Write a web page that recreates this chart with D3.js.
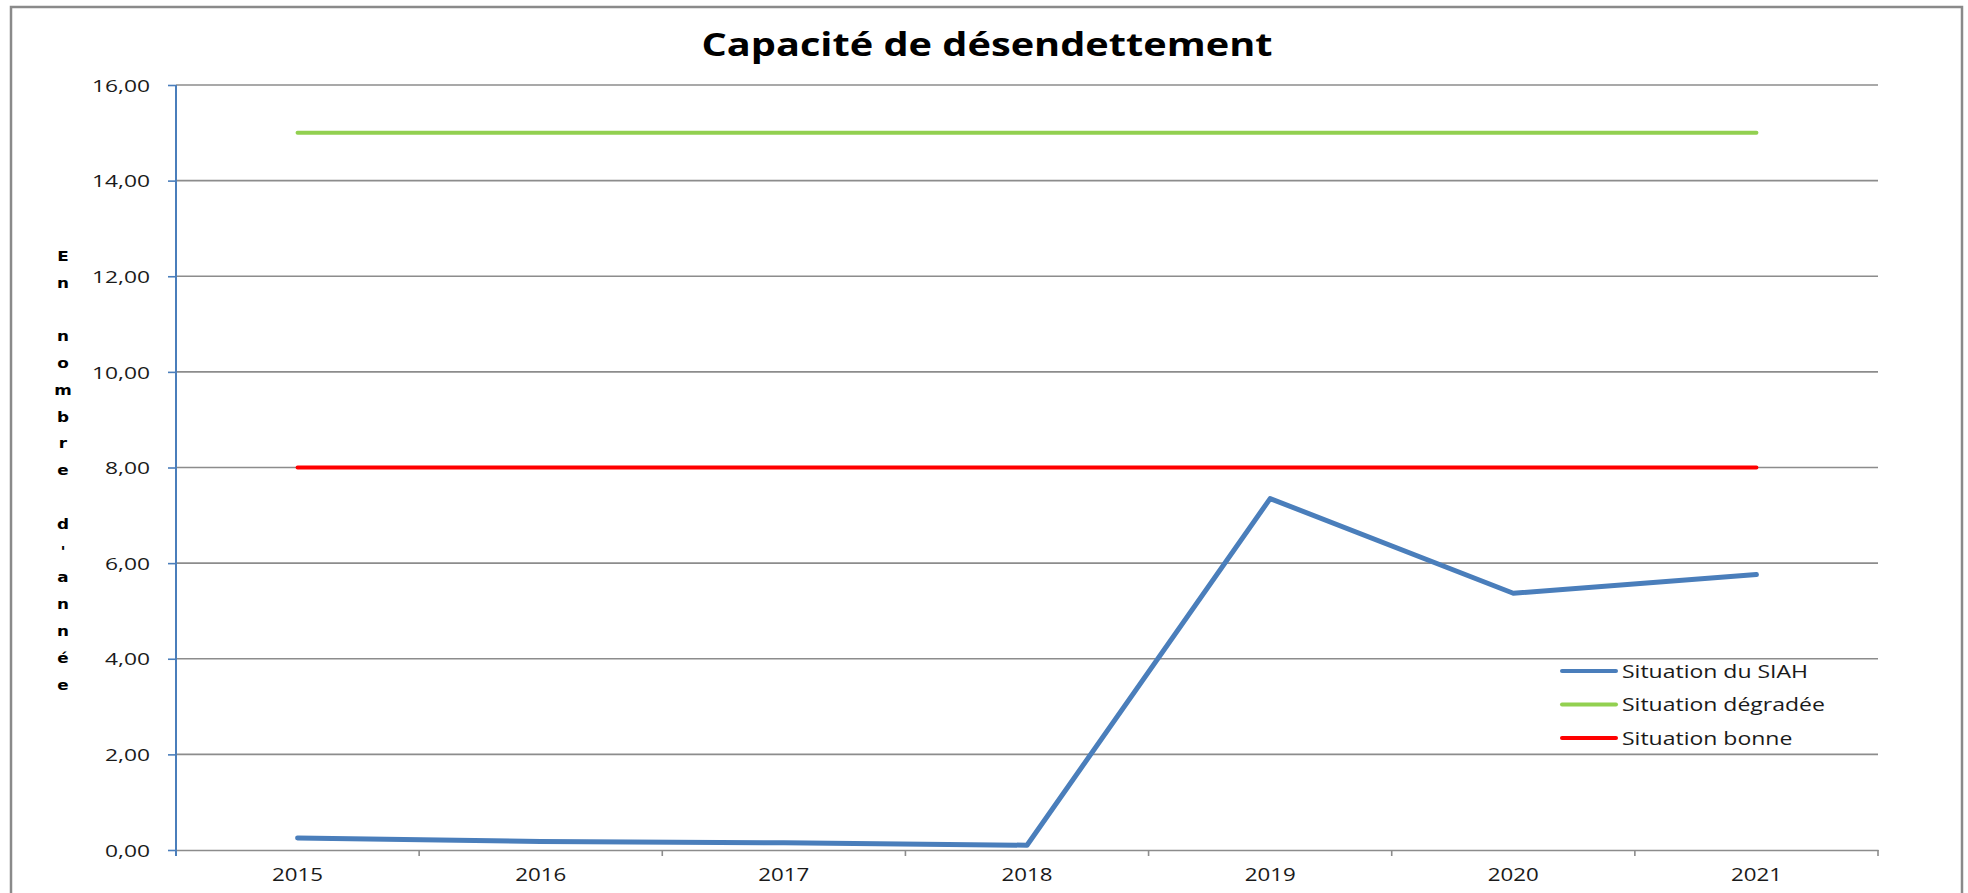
<!DOCTYPE html>
<html>
<head>
<meta charset="utf-8">
<script src="https://cdn.jsdelivr.net/npm/d3@7"></script>
<style>
  html, body { margin: 0; padding: 0; background: #ffffff; }
  svg { display: block; }
</style>
</head>
<body>
<svg id="chart" width="1968" height="893"></svg>
<script>
// ---- Data ----
const years = ["2015", "2016", "2017", "2018", "2019", "2020", "2021"];
const siah = [0.25, 0.18, 0.15, 0.10, 7.35, 5.37, 5.76];
const degradee = [15, 15, 15, 15, 15, 15, 15];
const bonne = [8, 8, 8, 8, 8, 8, 8];
const yTicks = [0, 2, 4, 6, 8, 10, 12, 14, 16];
const seriesNames = ["Situation du SIAH", "Situation dégradée", "Situation bonne"];
const seriesColors = ["#4a7ebb", "#92d050", "#ff0000"];
const title = "Capacité de désendettement";
const yTitle = "En nombre d'année";

// ---- Layout ----
const W = 1968, H = 893;
const plot = { left: 176, right: 1878, top: 85, bottom: 850 };
const FONT = "'Open Sans', 'Noto Sans', sans-serif";

const svg = d3.select("#chart");

function stretch(sel, k) {
  sel.each(function() {
    const w = this.getComputedTextLength();
    d3.select(this).attr("textLength", w * k).attr("lengthAdjust", "spacingAndGlyphs");
  });
}
function natural(text, size, weight) {
  const t = svg.append("text").attr("font-family", FONT).attr("font-size", size)
    .attr("font-weight", weight || "normal").text(text);
  const w = t.node().getComputedTextLength();
  t.remove();
  return w;
}

// outer border
svg.append("rect")
  .attr("x", 11).attr("y", 7).attr("width", 1951).attr("height", 905)
  .attr("fill", "#ffffff").attr("stroke", "#8a8a8a").attr("stroke-width", 2.5);

// scales
const xBand = d3.scaleBand().domain(years).range([plot.left, plot.right]).padding(0);
const xc = d => xBand(d) + xBand.bandwidth() / 2;
const y = d3.scaleLinear().domain([0, 16]).range([plot.bottom, plot.top]);

// gridlines
svg.append("g").selectAll("line").data(yTicks.filter(v => v > 0)).join("line")
  .attr("x1", plot.left).attr("x2", plot.right)
  .attr("y1", d => y(d)).attr("y2", d => y(d))
  .attr("stroke", "#8c8c8c").attr("stroke-width", 1.6);

// x axis (gray) with labels centred in bands
const xAxisG = svg.append("g").attr("transform", `translate(0,${plot.bottom})`)
  .call(d3.axisBottom(xBand).tickSize(0).tickPadding(18));
xAxisG.select(".domain").attr("stroke", "#8c8c8c").attr("stroke-width", 1.6);
const xk = 51 / natural("2015", 18);
xAxisG.selectAll("text").attr("font-family", FONT).attr("font-size", 18).attr("fill", "#1a1a1a")
  .attr("dy", "0.71em").call(stretch, xk);
// boundary ticks between categories
const bounds = years.map(d => xBand(d)).concat([plot.right]);
svg.append("g").selectAll("line").data(bounds).join("line")
  .attr("x1", d => d).attr("x2", d => d)
  .attr("y1", plot.bottom).attr("y2", plot.bottom + 6)
  .attr("stroke", "#8c8c8c").attr("stroke-width", 1.6);

// y axis (blue)
const yAxisG = svg.append("g").attr("transform", `translate(${plot.left},0)`)
  .call(d3.axisLeft(y).tickValues(yTicks).tickSize(8).tickPadding(18)
    .tickFormat(d => d3.format(".2f")(d).replace(".", ",")));
yAxisG.select(".domain").attr("stroke", "#4a7ebb").attr("stroke-width", 2)
  .attr("d", `M0,${plot.top}V${plot.bottom + 6}`);
yAxisG.selectAll(".tick line").attr("stroke", "#4a7ebb").attr("stroke-width", 1.6);
const yk = 58 / natural("16,00", 17);
yAxisG.selectAll("text").attr("font-family", FONT).attr("font-size", 17).attr("fill", "#1a1a1a")
  .attr("dy", "0.36em").call(stretch, yk);

// y title, stacked letters
const chars = Array.from(yTitle);
svg.append("g").selectAll("text").data(chars).join("text")
  .attr("x", 63).attr("y", (d, i) => 260.7 + i * 26.8)
  .attr("text-anchor", "middle")
  .attr("font-family", "'DejaVu Sans', sans-serif").attr("font-weight", "bold").attr("font-size", 14)
  .attr("fill", "#000").text(d => d)
  .call(stretch, 1.2);

// lines
const line = d3.line().x((d, i) => xc(years[i])).y(d => y(d));
const seriesData = [siah, degradee, bonne];
const widths = [5, 4, 4];
[2, 1, 0].forEach(i => {
  svg.append("path").datum(seriesData[i])
    .attr("d", line).attr("fill", "none")
    .attr("stroke", seriesColors[i]).attr("stroke-width", widths[i])
    .attr("stroke-linejoin", "round").attr("stroke-linecap", "round");
});

// title
const tk = 571 / natural(title, 33, "bold");
svg.append("text").attr("x", 987).attr("y", 56).attr("text-anchor", "middle")
  .attr("font-family", FONT).attr("font-weight", "bold").attr("font-size", 33)
  .attr("fill", "#000").text(title).call(stretch, tk);

// legend
const lk = 186 / natural("Situation du SIAH", 19);
const leg = svg.append("g");
seriesNames.forEach((name, i) => {
  const cy = 671 + i * 33.5;
  leg.append("line").attr("x1", 1562).attr("x2", 1616).attr("y1", cy).attr("y2", cy)
    .attr("stroke", seriesColors[i]).attr("stroke-width", 4).attr("stroke-linecap", "round");
  leg.append("text").attr("x", 1622).attr("y", cy).attr("dy", "0.36em")
    .attr("font-family", FONT).attr("font-size", 19).attr("fill", "#1a1a1a")
    .text(name).call(stretch, lk);
});
</script>
</body>
</html>
